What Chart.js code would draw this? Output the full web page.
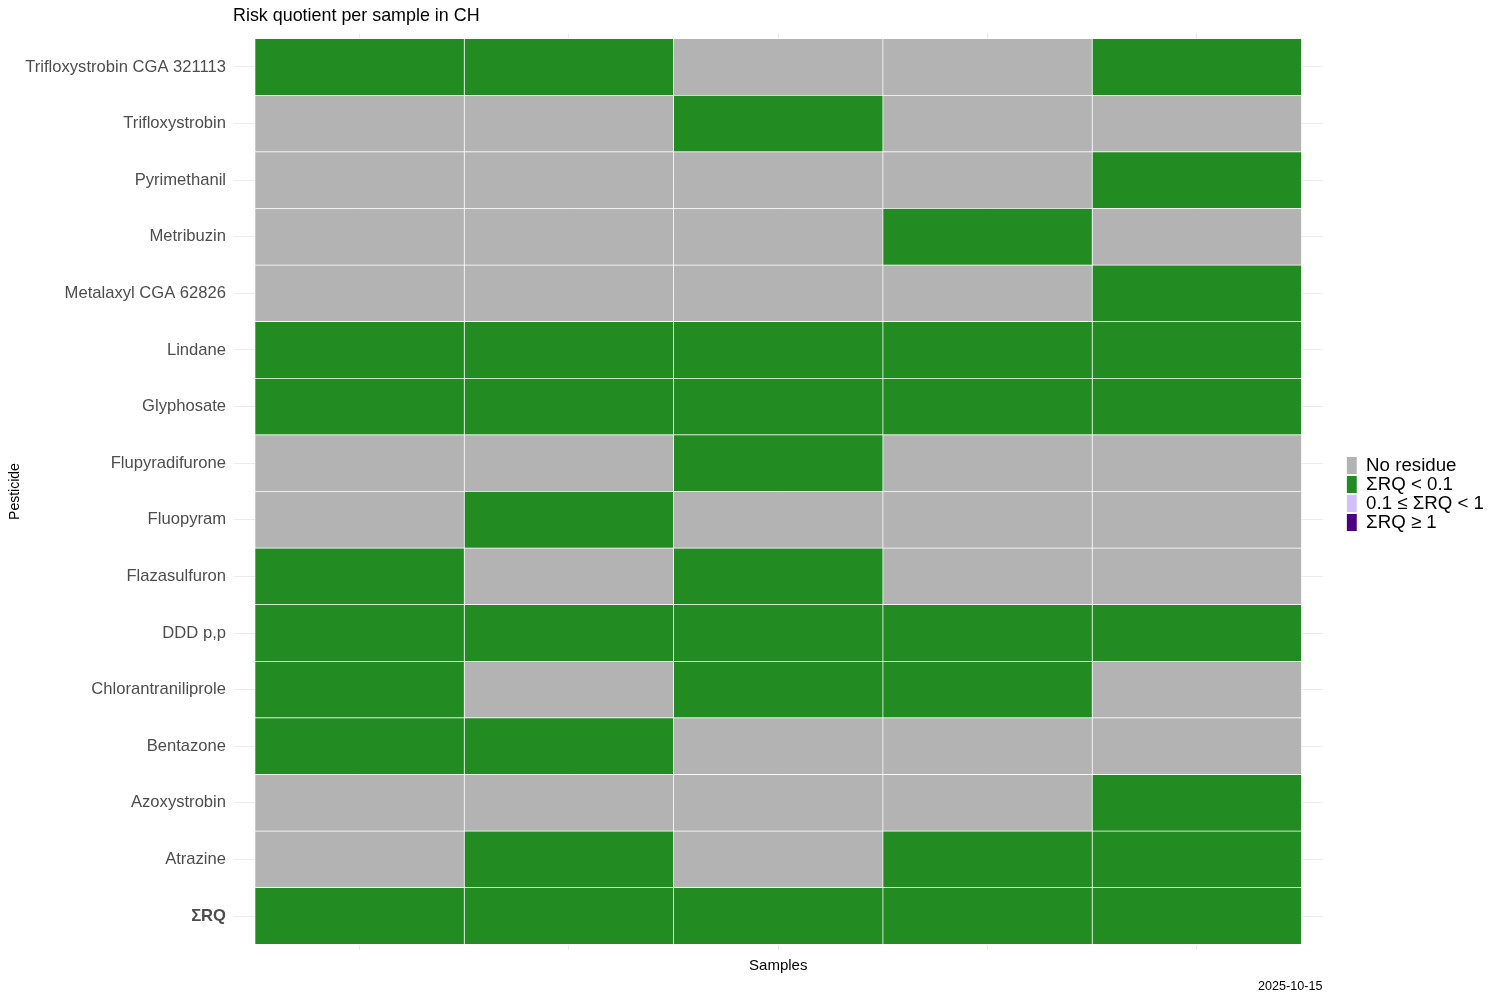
<!DOCTYPE html>
<html>
<head>
<meta charset="utf-8">
<script src="https://cdn.jsdelivr.net/npm/chart.js@4.4.1/dist/chart.umd.min.js"></script>
<style>
html,body{margin:0;padding:0;background:#fff;}
#wrap{width:1500px;height:1000px;}
</style>
</head>
<body>
<div id="wrap"><canvas id="c" width="1500" height="1000"></canvas></div>
<script>
// Rows, top to bottom
const pesticides = [
  "Trifloxystrobin CGA 321113",
  "Trifloxystrobin",
  "Pyrimethanil",
  "Metribuzin",
  "Metalaxyl CGA 62826",
  "Lindane",
  "Glyphosate",
  "Flupyradifurone",
  "Fluopyram",
  "Flazasulfuron",
  "DDD p,p",
  "Chlorantraniliprole",
  "Bentazone",
  "Azoxystrobin",
  "Atrazine",
  "ΣRQ"
];
const samples = ["Sample 1", "Sample 2", "Sample 3", "Sample 4", "Sample 5"];
// Category per cell: N = No residue, G = ΣRQ < 0.1
const sample1 = ["G","N","N","N","N","G","G","N","N","G","G","G","G","N","N","G"];
const sample2 = ["G","N","N","N","N","G","G","N","G","N","G","N","G","N","G","G"];
const sample3 = ["N","G","N","N","N","G","G","G","N","G","G","G","N","N","N","G"];
const sample4 = ["N","N","N","G","N","G","G","N","N","N","G","G","N","N","G","G"];
const sample5 = ["G","N","G","N","G","G","G","N","N","N","G","N","N","G","G","G"];
const sampleCells = [sample1, sample2, sample3, sample4, sample5];
const legendLabels = ["No residue", "ΣRQ < 0.1", "0.1 ≤ ΣRQ < 1", "ΣRQ ≥ 1"];
const legendCodes = ["N", "G", "L", "H"];
const titleText = "Risk quotient per sample in CH";
const captionText = "2025-10-15";

const palette = {N: "#B3B3B3", G: "#228B22", L: "#D1BFFF", H: "#4B0082"};
const FONT = "'Liberation Sans', Arial, sans-serif";

const datasets = sampleCells.map((cells, si) => ({
  label: samples[si],
  data: cells.map((c, i) => ({x: 1, y: i})),
  backgroundColor: cells.map(c => palette[c]),
  borderColor: "#FFFFFF",
  borderWidth: 0.7,
  borderSkipped: false,
  barPercentage: 1,
  categoryPercentage: 1
}));

const textPlugin = {
  id: "texts",
  afterDraw(chart) {
    const ctx = chart.ctx, a = chart.chartArea;
    ctx.save();
    ctx.fillStyle = "#000";
    ctx.font = "17.9px " + FONT;
    ctx.textAlign = "left";
    ctx.textBaseline = "middle";
    ctx.fillText(titleText, a.left - 1, 16.5);
    ctx.font = "12.6px " + FONT;
    ctx.textAlign = "right";
    ctx.fillText(captionText, a.right, 987);
    ctx.restore();
  }
};

new Chart(document.getElementById("c"), {
  type: "bar",
  data: {labels: pesticides, datasets},
  plugins: [textPlugin],
  options: {
    indexAxis: "y",
    responsive: false,
    animation: false,
    layout: {padding: {top: 33, left: 0, right: 6, bottom: 0}},
    scales: {
      x: {
        type: "linear",
        stacked: true,
        offset: false,
        min: -0.1,
        max: 5.1,
        afterBuildTicks: (s) => { s.ticks = samples.map((_, i) => ({value: i + 0.5})); },
        afterFit: (s) => { s.height = 50; },
        grid: {color: "#EBEBEB", lineWidth: 1, drawTicks: false, offset: false},
        border: {display: false},
        ticks: {display: false},
        title: {display: true, text: "Samples", color: "#000", font: {size: 15, family: FONT}, padding: {top: 25, bottom: 25}}
      },
      y: {
        type: "linear",
        stacked: true,
        reverse: true,
        offset: false,
        min: -0.6,
        max: pesticides.length - 0.4,
        afterBuildTicks: (s) => { s.ticks = pesticides.map((_, i) => ({value: i})); },
        afterFit: (s) => { s.width = 234; },
        grid: {color: "#EBEBEB", lineWidth: 1, drawTicks: false, offset: false},
        border: {display: false},
        ticks: {
          padding: 8,
          color: "#4D4D4D",
          autoSkip: false,
          font: (c) => ({size: 16.6, family: FONT, weight: (c.tick && c.tick.value === pesticides.length - 1) ? "bold" : "normal"}),
          callback: (v) => pesticides[v]
        },
        title: {display: true, text: "Pesticide", color: "#000", font: {size: 14, family: FONT}, padding: {top: 7, bottom: 7}}
      },
      spacer: {
        type: "linear",
        position: "right",
        display: true,
        afterFit: (s) => { s.width = 24; },
        grid: {display: false, drawTicks: false},
        border: {display: false},
        ticks: {display: false}
      }
    },
    plugins: {
      title: {display: false},
      tooltip: {enabled: false},
      legend: {
        display: true,
        position: "right",
        fullSize: false,
        onClick: null,
        title: {display: true, text: "", font: {size: 1, lineHeight: 1}, padding: {top: 2, bottom: 2}},
        labels: {
          boxWidth: 10,
          boxHeight: 17,
          padding: 0.3,
          color: "#000",
          font: {size: 18.7, family: FONT},
          generateLabels: () => legendLabels.map((t, i) => ({
            text: t,
            fillStyle: palette[legendCodes[i]],
            strokeStyle: palette[legendCodes[i]],
            lineWidth: 0,
            fontColor: "#000",
            hidden: false,
            datasetIndex: 0
          }))
        }
      }
    }
  }
});
</script>
</body>
</html>
